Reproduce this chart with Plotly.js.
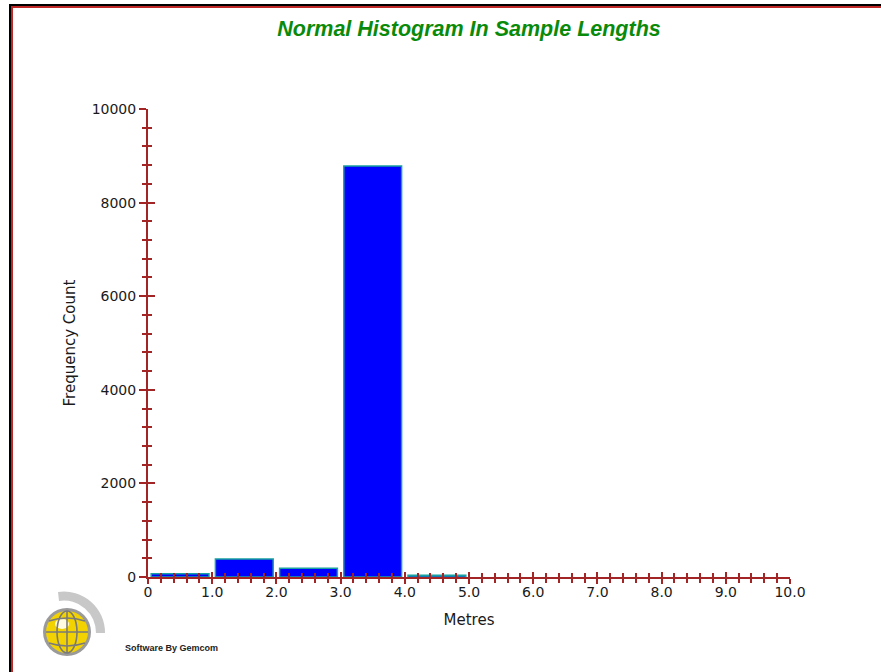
<!DOCTYPE html>
<html>
<head>
<meta charset="utf-8">
<script src="https://cdn.plot.ly/plotly-3.0.1.min.js"></script>
<style>
  html, body { margin:0; padding:0; background:#fff; }
  #wrap { position:relative; width:881px; height:672px; overflow:hidden; background:#fff; }
  #chart { position:absolute; left:0; top:0; width:881px; height:672px; }
  .bl { position:absolute; background:#000; }
  .rd { position:absolute; background:#c02828; }
  #logo { position:absolute; left:0; top:0; pointer-events:none; }
</style>
</head>
<body>
<div id="wrap">
  <div id="chart"></div>
  <div class="bl" style="left:9px; top:4px; width:872px; height:2px;"></div>
  <div class="rd" style="left:11px; top:6px; width:870px; height:2px;"></div>
  <div class="bl" style="left:9px; top:4px; width:2px; height:668px;"></div>
  <div class="rd" style="left:11px; top:6px; width:2px; height:666px;"></div>
  <svg id="logo" width="130" height="672" viewBox="0 0 130 672">
    <path d="M 58 592 A 41 41 0 0 1 105 633 L 96 633 A 32 32 0 0 0 59 601 Z" fill="#c8c8c8"/>
    <circle cx="67" cy="632" r="24" fill="#9a9a9a"/>
    <circle cx="67" cy="632" r="21" fill="#f2d200"/>
    <ellipse cx="62" cy="624" rx="7" ry="5" fill="#fffbe0"/>
    <g fill="none" stroke="#7a7a7a" stroke-width="1.6">
      <ellipse cx="67" cy="632" rx="10" ry="21"/>
      <line x1="67" y1="611" x2="67" y2="653"/>
      <line x1="46" y1="632" x2="88" y2="632"/>
      <path d="M 49 621 Q 67 615 85 621"/>
      <path d="M 49 643 Q 67 649 85 643"/>
    </g>
  </svg>
</div>
<script>
// ---- data ----
var binStart = [0, 1, 2, 3, 4];
var binWidth = 1;
var counts = [70, 385, 185, 8780, 40];
var xTickVals = [0, 1, 2, 3, 4, 5, 6, 7, 8, 9, 10];
var xTickText = ['0', '1.0', '2.0', '3.0', '4.0', '5.0', '6.0', '7.0', '8.0', '9.0', '10.0'];
var yTickVals = [0, 2000, 4000, 6000, 8000, 10000];
var yTickText = ['0', '2000', '4000', '6000', '8000', '10000'];

var axisColor = '#a32424';
var labelFont = {family: 'DejaVu Sans, sans-serif', size: 14, color: '#1a1a1a'};
var titleFontAx = {family: 'DejaVu Sans, sans-serif', size: 15, color: '#1a1a1a'};

var barCenters = binStart.map(function (s) { return s + binWidth / 2; });

var traces = [{
  type: 'bar',
  x: barCenters,
  y: counts,
  width: binWidth * 0.9,
  marker: {color: '#0000ff', line: {color: '#1aa0a0', width: 1.5}},
  hoverinfo: 'x+y',
  showlegend: false
}, {
  // empty helper trace so the overlaid tick-only axes are drawn
  type: 'scatter', mode: 'markers', x: [], y: [],
  xaxis: 'x2', yaxis: 'y2', showlegend: false, hoverinfo: 'skip'
}];

var layout = {
  width: 881, height: 672,
  margin: {l: 148, r: 91, t: 109, b: 95, pad: 0},
  paper_bgcolor: '#ffffff', plot_bgcolor: '#ffffff',
  showlegend: false,
  title: {
    text: '<b><i>Normal Histogram In Sample Lengths</i></b>',
    font: {family: 'Liberation Sans, Arial, sans-serif', size: 21.5, color: '#0a8a0a'},
    x: 0.5, xanchor: 'center', xref: 'paper',
    yref: 'container', y: 1 - 28 / 672, yanchor: 'middle'
  },
  xaxis: {
    range: [0, 10], fixedrange: true,
    tickmode: 'array', tickvals: xTickVals, ticktext: xTickText,
    ticks: 'outside', ticklen: 5, tickwidth: 2, tickcolor: axisColor,
    minor: {dtick: 0.2, tick0: 0, ticks: 'outside', ticklen: 4, tickwidth: 2, tickcolor: axisColor, showgrid: false},
    showline: true, linecolor: axisColor, linewidth: 2,
    showgrid: false, zeroline: false,
    tickfont: labelFont, ticklabelstandoff: -4,
    title: {text: 'Metres', font: titleFontAx, standoff: 16}
  },
  xaxis2: {
    overlaying: 'x', anchor: 'y', side: 'bottom',
    range: [0, 10], fixedrange: true,
    tickmode: 'array', tickvals: xTickVals,
    ticks: 'inside', ticklen: 5, tickwidth: 2, tickcolor: axisColor,
    minor: {dtick: 0.2, tick0: 0, ticks: 'inside', ticklen: 4, tickwidth: 2, tickcolor: axisColor, showgrid: false},
    showticklabels: false, showline: false, showgrid: false, zeroline: false
  },
  yaxis: {
    range: [0, 10000], fixedrange: true,
    tickmode: 'array', tickvals: yTickVals, ticktext: yTickText,
    ticks: 'outside', ticklen: 7, tickwidth: 2, tickcolor: axisColor,
    minor: {dtick: 400, tick0: 0, ticks: 'outside', ticklen: 4, tickwidth: 2, tickcolor: axisColor, showgrid: false},
    showline: true, linecolor: axisColor, linewidth: 2,
    showgrid: false, zeroline: false,
    tickfont: labelFont,
    title: {text: 'Frequency Count', font: titleFontAx, standoff: 12}
  },
  yaxis2: {
    overlaying: 'y', anchor: 'x', side: 'left',
    range: [0, 10000], fixedrange: true,
    tickmode: 'array', tickvals: yTickVals,
    ticks: 'inside', ticklen: 7, tickwidth: 2, tickcolor: axisColor,
    minor: {dtick: 400, tick0: 0, ticks: 'inside', ticklen: 4, tickwidth: 2, tickcolor: axisColor, showgrid: false},
    showticklabels: false, showline: false, showgrid: false, zeroline: false
  },
  annotations: [{
    text: '<b>Software By Gemcom</b>',
    xref: 'paper', yref: 'paper',
    x: (123 - 148) / 642, y: (577 - 648) / 468,
    xanchor: 'left', yanchor: 'middle', showarrow: false,
    font: {family: 'Liberation Sans, Arial, sans-serif', size: 9, color: '#222'}
  }]
};

Plotly.newPlot('chart', traces, layout, {displayModeBar: false, staticPlot: true});
</script>
</body>
</html>
